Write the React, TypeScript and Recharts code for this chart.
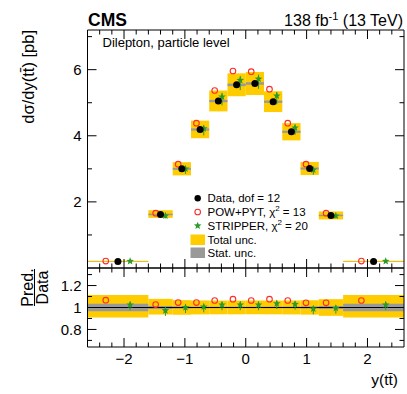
import React from 'react';
import { ComposedChart, XAxis, YAxis, Scatter, ReferenceArea, ReferenceLine, ErrorBar } from 'recharts';

// ---- data ----
const binLo = [-2.6, -1.6, -1.2, -0.9, -0.6, -0.3, 0, 0.3, 0.6, 0.9, 1.2, 1.6];
const binHi = [-1.6, -1.2, -0.9, -0.6, -0.3, 0, 0.3, 0.6, 0.9, 1.2, 1.6, 2.6];
const dataX = [-2.1, -1.4, -1.05, -0.75, -0.45, -0.15, 0.15, 0.45, 0.75, 1.05, 1.4, 2.1];
const powX = [-2.3, -1.48, -1.11, -0.81, -0.51, -0.21, 0.09, 0.39, 0.69, 0.99, 1.32, 1.9];
const stripX = [-1.9, -1.32, -0.99, -0.69, -0.39, -0.09, 0.21, 0.51, 0.81, 1.11, 1.48, 2.3];

const dataVal = [0.2, 1.62, 3.0, 4.19, 5.05, 5.54, 5.58, 5.03, 4.12, 3.01, 1.59, 0.2];
const powVal = [0.21, 1.66, 3.14, 4.38, 5.37, 5.96, 5.94, 5.41, 4.38, 3.14, 1.66, 0.21];
const stripVal = [0.205, 1.58, 3.0, 4.22, 5.18, 5.68, 5.72, 5.21, 4.24, 2.97, 1.58, 0.205];
const stripErrLo = [0.01, 0.08, 0.15, 0.21, 0.26, 0.3, 0.3, 0.26, 0.21, 0.15, 0.08, 0.01];
const stripErrHi = [0.005, 0.04, 0.07, 0.1, 0.12, 0.13, 0.13, 0.12, 0.1, 0.07, 0.04, 0.005];

const powRatio = [1.067, 1.027, 1.045, 1.045, 1.064, 1.076, 1.064, 1.076, 1.064, 1.043, 1.043, 1.064];
const stripRatio = [1.025, 0.973, 1.0, 1.006, 1.025, 1.025, 1.025, 1.036, 1.03, 0.988, 0.994, 1.025];
const stripRatioErrLo = [0.05, 0.05, 0.05, 0.05, 0.05, 0.05, 0.05, 0.05, 0.05, 0.05, 0.05, 0.05];
const stripRatioErrHi = [0.028, 0.028, 0.028, 0.028, 0.028, 0.028, 0.028, 0.028, 0.028, 0.028, 0.028, 0.028];

const totUp = [0.115, 0.079, 0.067, 0.064, 0.063, 0.063, 0.063, 0.063, 0.064, 0.066, 0.076, 0.115];
const totDn = [0.09, 0.064, 0.066, 0.063, 0.062, 0.062, 0.062, 0.062, 0.063, 0.065, 0.076, 0.09];
const statRel = [0.035, 0.014, 0.01, 0.008, 0.007, 0.007, 0.007, 0.007, 0.008, 0.01, 0.014, 0.035];

const xTicks = [-2.4, -2.2, -2, -1.8, -1.6, -1.4, -1.2, -1, -0.8, -0.6, -0.4, -0.2, 0, 0.2, 0.4, 0.6, 0.8, 1, 1.2, 1.4, 1.6, 1.8, 2, 2.2, 2.4];
const xMajor = [-2, -1, 0, 1, 2];
const xLabels = ['\u22122', '\u22121', '0', '1', '2'];
const topYTicks = [1, 2, 3, 4, 5, 6, 7];
const topYMajor = [2, 4, 6];
const topYLabels = ['2', '4', '6'];
const ratioYTicks = [0.7, 0.8, 0.9, 1, 1.1, 1.2, 1.3];
const ratioYMajor = [0.8, 1, 1.2];
const ratioYLabels = ['0.8', '1', '1.2'];

const FONT = "'Liberation Sans', Arial, Helvetica, sans-serif";
const YELLOW = '#ffcc00';
const GRAY = '#999999';
const RED = '#ff2a2a';
const GREEN = '#2a9a2a';

const topData = dataX.map((x, i) => ({ x, y: dataVal[i] }));
const topPow = powX.map((x, i) => ({ x, y: powVal[i] }));
const topStrip = stripX.map((x, i) => ({ x, y: stripVal[i], err: [stripErrLo[i], stripErrHi[i]] }));
const ratPow = powX.map((x, i) => ({ x, y: powRatio[i] }));
const ratStrip = stripX.map((x, i) => ({ x, y: stripRatio[i], err: [stripRatioErrLo[i], stripRatioErrHi[i]] }));

function starPath(cx: number, cy: number, R: number, r: number) {
  let d = '';
  for (let k = 0; k < 10; k++) {
    const ang = -Math.PI / 2 + (k * Math.PI) / 5;
    const rad = k % 2 === 0 ? R : r;
    d += (k === 0 ? 'M' : 'L') + (cx + rad * Math.cos(ang)).toFixed(2) + ',' + (cy + rad * Math.sin(ang)).toFixed(2);
  }
  return d + 'Z';
}

const Dot = (p: any) => <circle cx={p.cx} cy={p.cy} r={3.5} fill="#000" />;
const OpenCircle = (p: any) => <circle cx={p.cx} cy={p.cy} r={2.8} fill="none" stroke={RED} strokeWidth={1.1} />;
const Star = (p: any) => <path d={starPath(p.cx, p.cy, 4, 1.7)} fill={GREEN} />;

function makeTick(side: string, majors: number[], labels: string[] | null, maj = 9, min = 4.5) {
  return (props: any) => {
    const { x, y, payload } = props;
    const v = payload.value;
    const idx = majors.findIndex((m) => Math.abs(m - v) < 1e-6);
    const L = idx >= 0 ? maj : min;
    let line: any = null;
    let label: any = null;
    if (side === 'left') {
      line = <line x1={x} y1={y} x2={x + L} y2={y} stroke="#000" strokeWidth={1} />;
      if (labels && idx >= 0)
        label = <text x={x - 6} y={y + 5.4} textAnchor="end" fontSize={15} fontFamily={FONT} fill="#000">{labels[idx]}</text>;
    } else if (side === 'right') {
      line = <line x1={x} y1={y} x2={x - L} y2={y} stroke="#000" strokeWidth={1} />;
    } else if (side === 'bottom') {
      line = <line x1={x} y1={y} x2={x} y2={y - L} stroke="#000" strokeWidth={1} />;
      if (labels && idx >= 0)
        label = <text x={x} y={y + 17} textAnchor="middle" fontSize={15} fontFamily={FONT} fill="#000">{labels[idx]}</text>;
    } else {
      line = <line x1={x} y1={y} x2={x} y2={y + L} stroke="#000" strokeWidth={1} />;
    }
    return <g>{line}{label}</g>;
  };
}

const axisCommon = { tickLine: false, tickSize: 0, tickMargin: 0, interval: 0 as any, allowDataOverflow: true, axisLine: { stroke: '#000', strokeWidth: 1 } };

export default function App() {
  return (
    <div style={{ position: 'absolute', left: 0, top: 0, width: 407, height: 394, background: '#fff' }}>
      {/* Upper panel */}
      <ComposedChart width={407} height={269} margin={{ top: 29, right: 2, bottom: 0, left: 86.5 }} style={{ position: 'absolute', left: 0, top: 0 }}>
        <XAxis xAxisId="b" dataKey="x" type="number" domain={[-2.6, 2.6]} ticks={xTicks} height={1} tick={makeTick('bottom', xMajor, null)} {...axisCommon} />
        <XAxis xAxisId="t" orientation="top" dataKey="x" type="number" domain={[-2.6, 2.6]} ticks={xTicks} height={1} tick={makeTick('top', xMajor, null)} {...axisCommon} />
        <YAxis yAxisId="l" type="number" domain={[0, 7.2]} ticks={topYTicks} width={1} tick={makeTick('left', topYMajor, topYLabels)} {...axisCommon} />
        <YAxis yAxisId="r" orientation="right" type="number" domain={[0, 7.2]} ticks={topYTicks} width={1} tick={makeTick('right', topYMajor, null)} {...axisCommon} />
        {binLo.map((lo, i) => (
          <ReferenceArea key={'ty' + i} xAxisId="b" yAxisId="l" x1={lo} x2={binHi[i]} y1={dataVal[i] * (1 - totDn[i])} y2={dataVal[i] * (1 + totUp[i])} fill={YELLOW} fillOpacity={1} stroke="none" ifOverflow="visible" />
        ))}
        {binLo.map((lo, i) => (
          <ReferenceArea key={'tg' + i} xAxisId="b" yAxisId="l" x1={lo} x2={binHi[i]} y1={dataVal[i] * (1 - statRel[i])} y2={dataVal[i] * (1 + statRel[i])} fill={GRAY} fillOpacity={1} stroke="none" ifOverflow="visible" />
        ))}
        <Scatter xAxisId="b" yAxisId="l" data={topPow} dataKey="y" shape={OpenCircle} isAnimationActive={false} />
        <Scatter xAxisId="b" yAxisId="l" data={topStrip} dataKey="y" shape={Star} isAnimationActive={false}>
          <ErrorBar dataKey="err" direction="y" width={0} stroke={GREEN} strokeWidth={1} isAnimationActive={false} />
        </Scatter>
        <Scatter xAxisId="b" yAxisId="l" data={topData} dataKey="y" shape={Dot} isAnimationActive={false} />
      </ComposedChart>

      {/* Ratio panel */}
      <ComposedChart width={407} height={127} margin={{ top: 0, right: 2, bottom: 46, left: 86.5 }} style={{ position: 'absolute', left: 0, top: 267 }}>
        <XAxis xAxisId="b" dataKey="x" type="number" domain={[-2.6, 2.6]} ticks={xTicks} height={1} tick={makeTick('bottom', xMajor, xLabels)} {...axisCommon} />
        <XAxis xAxisId="t" orientation="top" dataKey="x" type="number" domain={[-2.6, 2.6]} ticks={xTicks} height={1} tick={makeTick('top', xMajor, null)} {...axisCommon} />
        <YAxis yAxisId="l" type="number" domain={[0.64, 1.36]} ticks={ratioYTicks} width={1} tick={makeTick('left', ratioYMajor, ratioYLabels)} {...axisCommon} />
        <YAxis yAxisId="r" orientation="right" type="number" domain={[0.64, 1.36]} ticks={ratioYTicks} width={1} tick={makeTick('right', ratioYMajor, null)} {...axisCommon} />
        {binLo.map((lo, i) => (
          <ReferenceArea key={'ry' + i} xAxisId="b" yAxisId="l" x1={lo} x2={binHi[i]} y1={1 - totDn[i]} y2={1 + totUp[i]} fill={YELLOW} fillOpacity={1} stroke="none" ifOverflow="visible" />
        ))}
        {binLo.map((lo, i) => (
          <ReferenceArea key={'rg' + i} xAxisId="b" yAxisId="l" x1={lo} x2={binHi[i]} y1={1 - statRel[i]} y2={1 + statRel[i]} fill={GRAY} fillOpacity={1} stroke="none" ifOverflow="visible" />
        ))}
        <ReferenceLine xAxisId="b" yAxisId="l" y={1} stroke="#000" strokeWidth={1} />
        <Scatter xAxisId="b" yAxisId="l" data={ratPow} dataKey="y" shape={OpenCircle} isAnimationActive={false} />
        <Scatter xAxisId="b" yAxisId="l" data={ratStrip} dataKey="y" shape={Star} isAnimationActive={false}>
          <ErrorBar dataKey="err" direction="y" width={0} stroke={GREEN} strokeWidth={1} isAnimationActive={false} />
        </Scatter>
      </ComposedChart>

      {/* Text overlay */}
      <svg width={407} height={394} style={{ position: 'absolute', left: 0, top: 0, pointerEvents: 'none' }} fontFamily={FONT}>
        <text x={88} y={26} fontSize={17.5} fontWeight="bold" fill="#000">CMS</text>
        <text x={403} y={26} fontSize={16} textAnchor="end" fill="#000">
          138 fb<tspan dy={-6} fontSize={11}>-1</tspan><tspan dy={6}> (13 TeV)</tspan>
        </text>
        <text x={102.5} y={47} fontSize={13} fill="#000">Dilepton, particle level</text>
        <text transform="translate(33.5,30) rotate(-90)" textAnchor="end" fontSize={16.5} fill="#000">d&#963;/dy(tt&#772;) [pb]</text>
        <text transform="translate(32.5,287.5) rotate(-90)" textAnchor="middle" fontSize={16} fill="#000">Pred.</text>
        <line x1={34.5} y1={269} x2={34.5} y2={306} stroke="#000" strokeWidth={1} />
        <text transform="translate(47.5,287.5) rotate(-90)" textAnchor="middle" fontSize={16} fill="#000">Data</text>
        <text x={398} y={385} fontSize={15.5} textAnchor="end" fill="#000">y(tt&#772;)</text>

        {/* legend */}
        <circle cx={197.7} cy={198.3} r={3.2} fill="#000" />
        <circle cx={197.7} cy={212} r={2.8} fill="none" stroke={RED} strokeWidth={1.1} />
        <path d={starPath(197.7, 225.7, 4, 1.7)} fill={GREEN} />
        <rect x={190.5} y={234.5} width={14.5} height={10.5} fill={YELLOW} />
        <rect x={190.5} y={247.5} width={14.5} height={10.5} fill={GRAY} />
        <text x={207.5} y={202.4} fontSize={11.5} fill="#000">Data, dof = 12</text>
        <text x={207.5} y={216.2} fontSize={11.5} fill="#000">POW+PYT, &#967;<tspan dy={-5} fontSize={8}>2</tspan><tspan dy={5}> = 13</tspan></text>
        <text x={207.5} y={229.8} fontSize={11.5} fill="#000">STRIPPER, &#967;<tspan dy={-5} fontSize={8}>2</tspan><tspan dy={5}> = 20</tspan></text>
        <text x={207.5} y={243.8} fontSize={11.5} fill="#000">Total unc.</text>
        <text x={207.5} y={256.8} fontSize={11.5} fill="#000">Stat. unc.</text>
      </svg>
    </div>
  );
}
